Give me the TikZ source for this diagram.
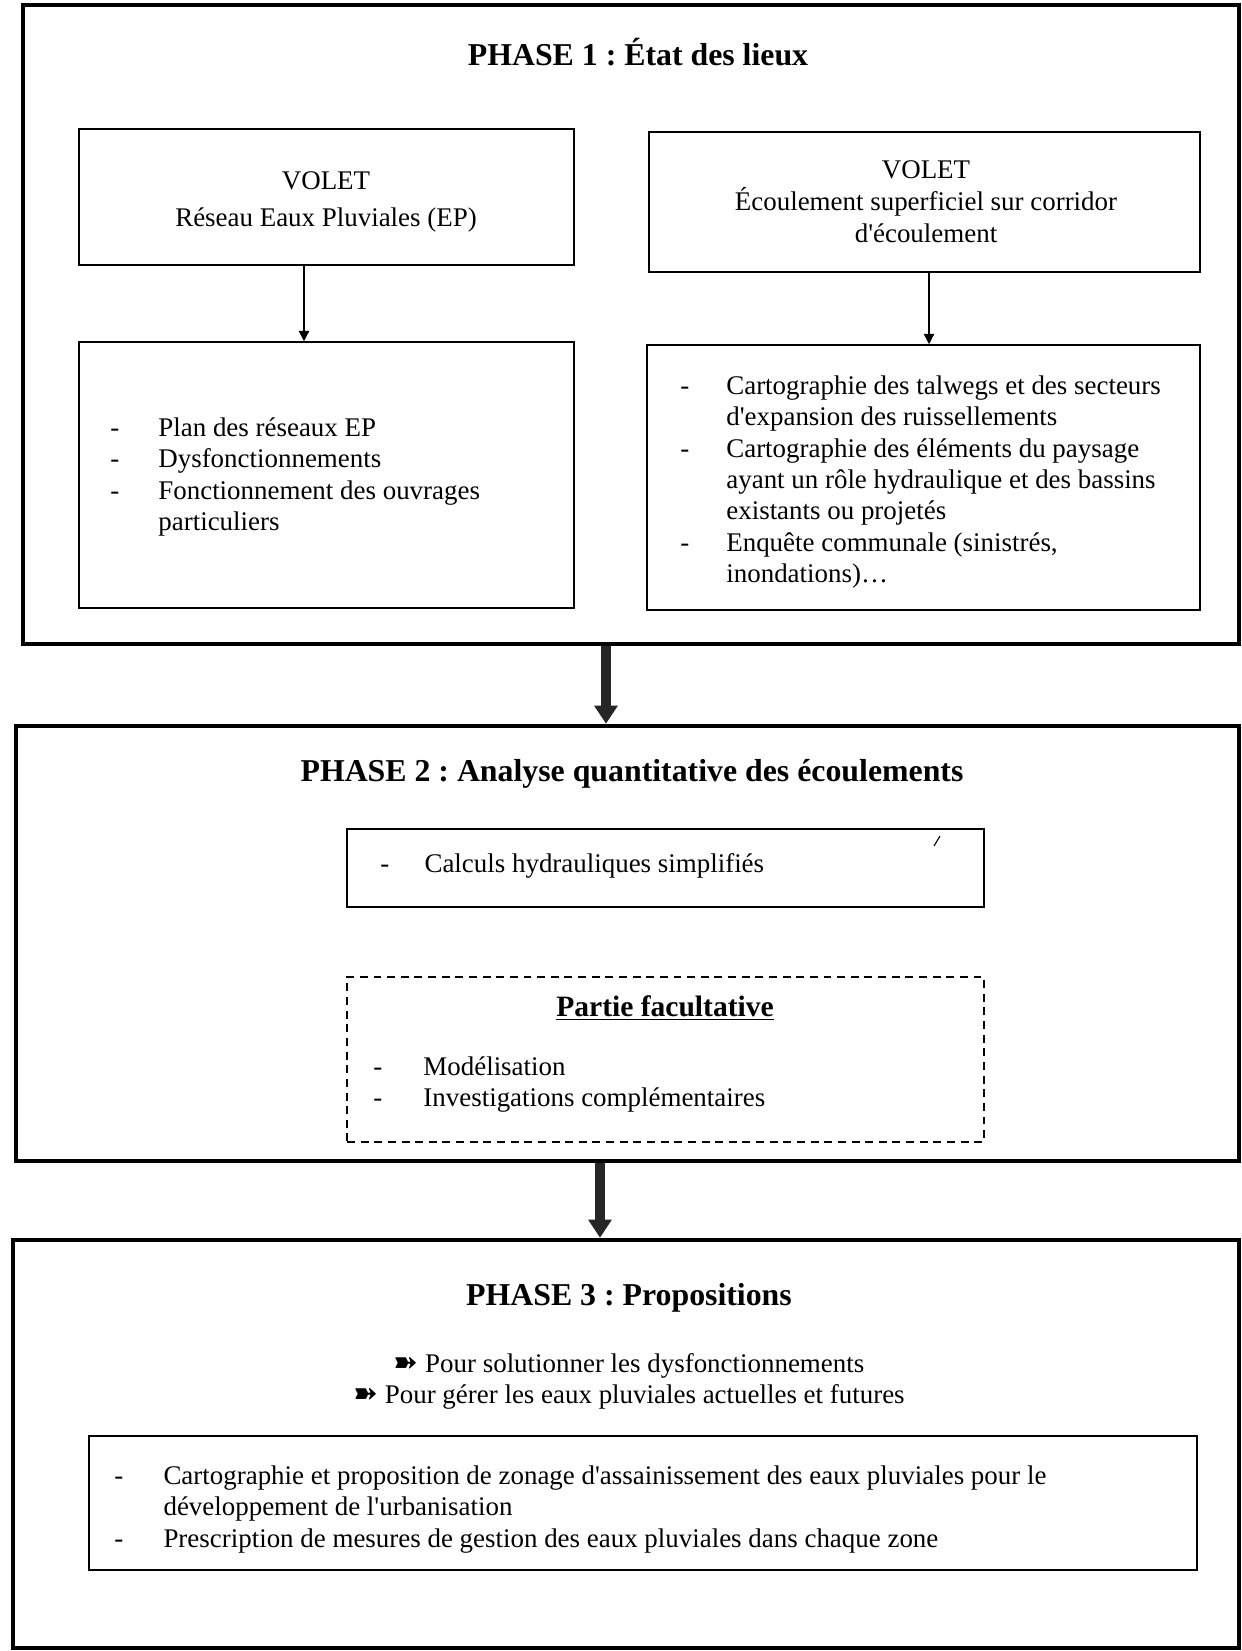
\documentclass[tikz,border=0pt]{standalone}
\usepackage{fontspec}
\setmainfont{Liberation Serif}
\newfontfamily\symfont{DejaVu Sans}
\usetikzlibrary{arrows.meta,fit,calc}
\newcommand\ap{\textquotesingle}
\frenchspacing
\begin{document}
\begin{tikzpicture}[x=0.44pt,y=-0.44pt,
  phase/.style={draw, line width=2pt, inner sep=0pt},
  box/.style={draw, line width=0.7pt, inner sep=0pt},
  dbox/.style={draw, line width=0.8pt, dash pattern=on 3.5pt off 2.5pt, inner sep=0pt},
  title/.style={font=\fontsize{14}{16.8}\selectfont\bfseries, anchor=base, inner sep=0pt},
  txt/.style={font=\fontsize{11.85}{13.8}\selectfont, inner sep=0pt},
  lst/.style={txt, anchor=north west},
  bigarrow/.style={draw=black!85, line width=4.4pt, -{Triangle[length=8pt,width=10pt]}},
  smallarrow/.style={line width=0.6pt, -{Triangle[length=4.5pt,width=4.5pt]}},
]
\useasboundingbox (0,0) rectangle (1242,1651);

% ---------- PHASE 1 ----------
\node[phase, fit={(23,5) (1239,644)}] (p1) {};
\node[title] (t1) at (638,65) {PHASE 1 : État des lieux};

\node[box, fit={(79,129) (574,265)}] (vL) {};
\node[txt, anchor=base] (vL1) at (326,189) {VOLET};
\node[txt, anchor=base] (vL2) at (326,226) {Réseau Eaux Pluviales (EP)};

\node[box, fit={(649,132) (1200,272)}] (vR) {};
\node[txt, anchor=base] (vR1) at (926,178) {VOLET};
\node[txt, anchor=base] (vR2) at (926,210) {Écoulement superficiel sur corridor};
\node[txt, anchor=base] (vR3) at (926,242) {d\ap écoulement};

\node[box, fit={(79,342) (574,608)}] (dL) {};
\node[lst] (dLt) at (110,414) {\begin{tabular}{@{}p{21.1pt}@{}l@{}}
- & Plan des réseaux EP\\
- & Dysfonctionnements\\
- & Fonctionnement des ouvrages\\
  & particuliers
\end{tabular}};

\node[box, fit={(647,345) (1200,610)}] (dR) {};
\node[lst] (dRt) at (680,372) {\begin{tabular}{@{}p{20.2pt}@{}l@{}}
- & Cartographie des talwegs et des secteurs\\
  & d\ap expansion des ruissellements\\
- & Cartographie des éléments du paysage\\
  & ayant un rôle hydraulique et des bassins\\
  & existants ou projetés\\
- & Enquête communale (sinistrés,\\
  & inondations)…
\end{tabular}};

\coordinate (aL) at (304,0);
\coordinate (aR) at (929,0);
\draw[smallarrow] (vL.south -| aL) -- (dL.north -| aL);
\draw[smallarrow] (vR.south -| aR) -- (dR.north -| aR);

% ---------- PHASE 2 ----------
\node[phase, fit={(16,726) (1239,1161)}] (p2) {};
\node[title] (t2) at (632,781) {PHASE 2 : Analyse quantitative des écoulements};

\node[box, line width=0.9pt, fit={(347,829) (984,907)}] (calc) {};
\node[lst] (calct) at (380,850) {\begin{tabular}{@{}p{19.4pt}@{}l@{}}
- & Calculs hydrauliques simplifiés
\end{tabular}};
\draw[line width=0.5pt] (934,846) -- (940,836);

\node[dbox, fit={(347,977) (984,1142)}] (fac) {};
\node[txt, anchor=base, font=\fontsize{13}{15.6}\selectfont\bfseries] (fact) at (665,1016) {\underline{Partie facultative}};
\node[lst] (facl) at (373,1053) {\begin{tabular}{@{}p{22pt}@{}l@{}}
- & Modélisation\\
- & Investigations complémentaires
\end{tabular}};

\coordinate (a1) at (606,0);
\draw[bigarrow] (p1.south -| a1) -- (p2.north -| a1);

% ---------- PHASE 3 ----------
\node[phase, fit={(13,1240) (1239,1648)}] (p3) {};
\node[title] (t3) at (629,1305) {PHASE 3 : Propositions};

\node[txt, anchor=base] (pr1) at (629,1372) {{\symfont\fontsize{13}{15}\selectfont ➽}\ Pour solutionner les dysfonctionnements};
\node[txt, anchor=base] (pr2) at (629,1403) {{\symfont\fontsize{13}{15}\selectfont ➽}\ Pour gérer les eaux pluviales actuelles et futures};

\node[box, fit={(89,1436) (1197,1570)}] (zon) {};
\node[lst] (zont) at (114,1462) {\begin{tabular}{@{}p{21.6pt}@{}l@{}}
- & Cartographie et proposition de zonage d\ap assainissement des eaux pluviales pour le\\
  & développement de l\ap urbanisation\\
- & Prescription de mesures de gestion des eaux pluviales dans chaque zone
\end{tabular}};

\coordinate (a2) at (600,0);
\draw[bigarrow] (p2.south -| a2) -- (p3.north -| a2);
\end{tikzpicture}
\end{document}
